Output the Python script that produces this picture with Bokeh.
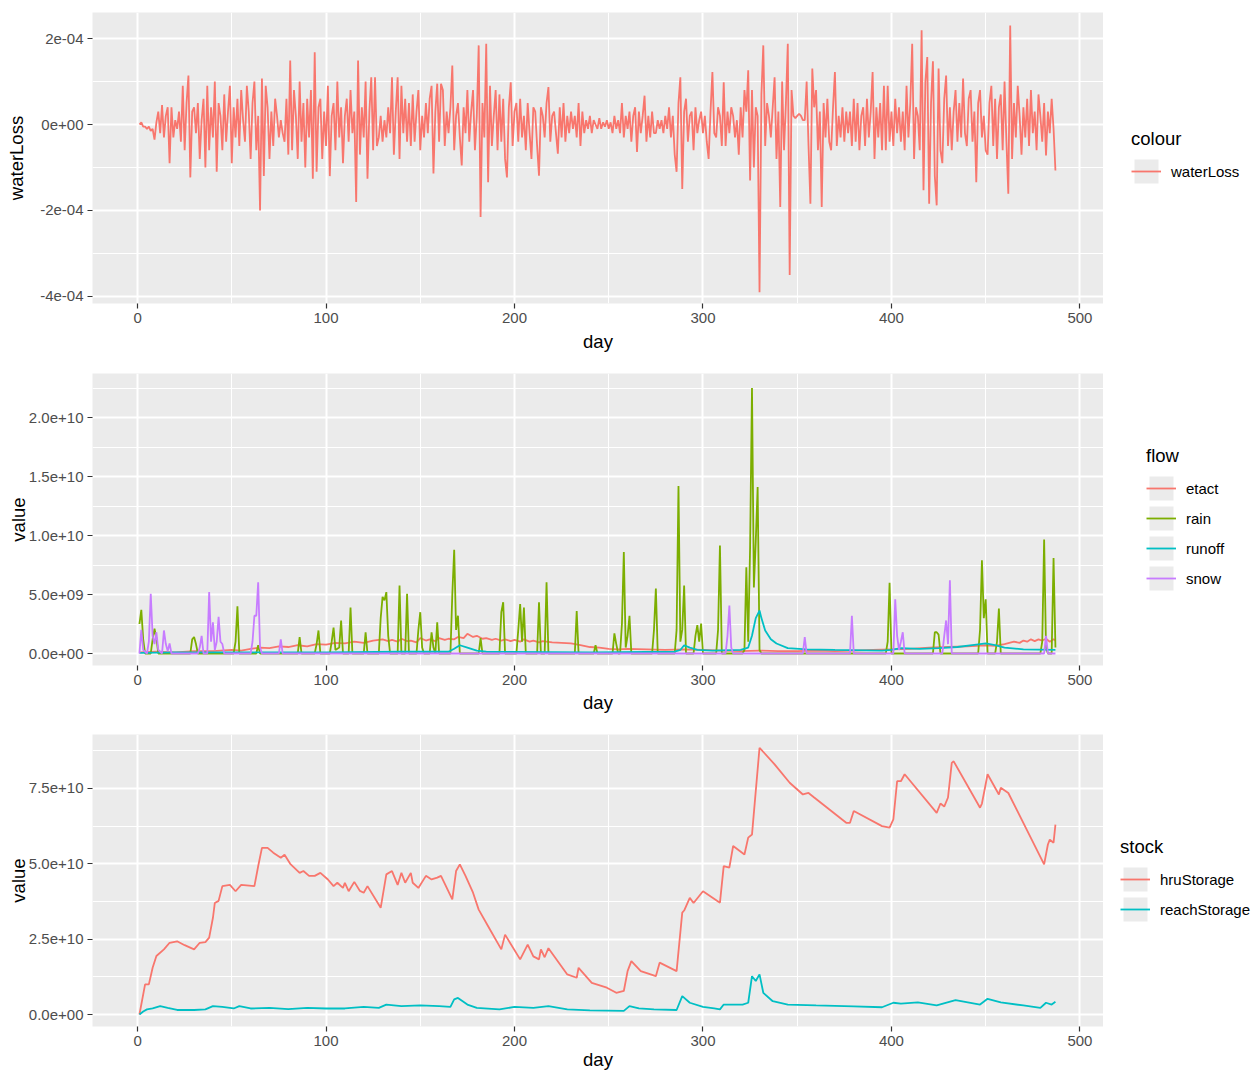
import numpy as np
from bokeh.plotting import figure
from bokeh.layouts import column, row
from bokeh.models import Range1d, FixedTicker, Legend, LegendItem
from bokeh.embed import file_html
from bokeh.resources import INLINE

FONT = "Liberation Sans"

# ---------------- data ----------------
# panel 1: daily waterLoss, units of 1e-5 (days 1..487)
water_loss_e5 = [
    0, 0.5, -0.5, -0.5, -1, -0.5, -1.5, -1, -3.5, 0.5,
    3, -2, 4.5, -3, 2, 4, -9, 4, -3, 1,
    -1, 3, -4, 9, -6, 5, 11.4, -12.3, 3, 4,
    -2, 5, -8, 1, 6, -10, 9, -6, 4, -3,
    10, -11, 5, 2, -6, 7, -4, 3, 9, -9,
    4, -3, 6, -5, 8, 1, -4, 9, 3, -8,
    5, 10, -6, 2, -20, 10.7, -12, 9, 4, -8,
    3, -5, 6, 2, -3, 1, -2, -4, 6, -7,
    14.9, -6, 8, 2, -8, 10, -4, 5, -10, 6,
    -3, 8, -12.6, 16.8, -11, 4, 6, -8, 3, -5,
    9, -12, 2, 5, -6, 10, -3, 4, -9, 2,
    6, -4, 8, -2, 3, -18, 14.9, -7, 4, -3,
    10, -12.6, 3, 11, -6, 11, -5, -3, 2, -4,
    1, -3, 4, -2, 11, -7, 3, 11, -8, 9,
    -2, 6, -4, 5, -5, 7, -4, 3, 8, -6,
    2, -3, 5, -2, 6, 9, -11.4, 3, 9.5, -4,
    9.5, 8, -5, 3, -2, 4, 13.7, -6, 2, 5,
    -3, -9.5, 4, -2, 8, -4, 3, 8, -6, 2,
    18.4, -21.5, 5, -3, 18.8, -13.4, 9, -5, 2, 8,
    -6, 7, -4, 6, -8, -12.3, 4, 9.8, -5, 3,
    5, -4, 6, -3, 2, -6, 5, -2, -8, 4,
    3, -5, -11.9, 4, 2, -3, 5, 8.7, -4, 2,
    3, -2, -6.8, 4, -3, 5, -4, 2, -2, 3,
    -1, 2, -3, 5, -5, 3, -2, 1, -1, 2,
    -2, 1, 0, -1, 1.5, -1, 0.5, -0.5, 1, -1,
    0.5, -2, 2, -1, 1, -2, 5, -3, 2, -1,
    3, -4, 2, 4, -6.4, 3, -2, 2, 6.7, -4,
    2, -3, 3, -2, -2, 1, -1, 1, -2, 2,
    -1, 4, -3, 2, -7, -11, 5, 11, -15, 3,
    6, -4, 2, 3, -6, 4, -2, 1, 3, -2,
    2, -4, -8, 3, 12.2, -2, -3, 4, 2, -5,
    9.8, -5, 3, -2, 4, 2, -3, 1, -7, 4,
    -3, 8, 3, 12.6, -13, 8, -10, 4, 2, -39,
    7, 18.4, -5, 5, 2, -3, 4, 11, -8, 3,
    -19.2, 10, -6, 5, 18.8, -35, 8, 2, 1.5, 2,
    2.5, 2, 1, 1, 10, -5, -18.4, 13, 4, 8,
    -6, 3, -19.2, 5, -3, 6, -4, -6, 4, 12.2,
    -5, 2, -3, 4, -4, 3, -2, 3, -5, 6,
    -4, 5, -6, 2, 4, -5, 6, -3, 3, 12.2,
    -8, 4, -3, 5, -6, 9, -6, 9, -4, 3,
    -5, 6, -2, 4, -4, 3, -6, 9, -3, 5,
    18.8, -8, 4, 2, -6, 21.9, -15.3, 10, 15.7, -18.4,
    5, 14.7, -12, -18.8, 13, -6, -9, 6, 11.4, -5,
    4, -6, 3, 8, -4, 5, -3, 10.7, -2, -5,
    6, 8, -4, 3, -13.4, 5, 8, -3, 2, -6,
    -7, 5, 9, -5, 6, -8, 4, 7, -6, 10,
    -4, -16.1, 23, -8, 5, -3, 9, 2, -7, 4,
    -3, 6, -5, 8, -2, 3, -6, 7, 2, -4,
    5, -7.2, 3, -2, 6, -1, -10.7,
]

# panel 2: flows (day, value in 1e9)
etact_pts = [
    (1, 0.1), (10, 0.15), (20, 0.1), (30, 0.2), (40, 0.2), (50, 0.3), (55, 0.25),
    (60, 0.4), (65, 0.5), (70, 0.45), (75, 0.6), (80, 0.55), (85, 0.7), (90, 0.6),
    (95, 0.8), (100, 0.75), (105, 0.9), (110, 0.85), (115, 1.0), (120, 0.9),
    (125, 1.1), (130, 1.2), (133, 1.05), (135, 1.15), (138, 1.0), (140, 1.25),
    (143, 1.05), (145, 1.1), (148, 0.95), (150, 1.3), (153, 1.1), (155, 1.2),
    (158, 1.05), (160, 1.3), (163, 1.15), (165, 1.25), (168, 1.2), (170, 1.4),
    (173, 1.3), (175, 1.67), (178, 1.4), (180, 1.5), (183, 1.25), (185, 1.3),
    (188, 1.15), (190, 1.25), (193, 1.1), (195, 1.2), (198, 1.05), (200, 1.15),
    (203, 1.0), (205, 1.2), (208, 1.0), (210, 1.1), (213, 0.95), (215, 1.05),
    (220, 0.95), (225, 0.9), (230, 0.85), (235, 0.7), (240, 0.55), (245, 0.5),
    (250, 0.4), (255, 0.35), (260, 0.4), (270, 0.35), (280, 0.3), (290, 0.35),
    (300, 0.3), (310, 0.25), (320, 0.2), (330, 0.25), (340, 0.2), (350, 0.2),
    (360, 0.25), (370, 0.2), (380, 0.25), (390, 0.3), (400, 0.35), (410, 0.4),
    (420, 0.5), (430, 0.55), (440, 0.6), (450, 0.7), (455, 0.65), (460, 0.8),
    (465, 1.0), (468, 0.9), (470, 1.1), (472, 1.0), (474, 1.2), (476, 1.05),
    (478, 1.2), (480, 1.1), (482, 1.25), (484, 1.0), (486, 1.2), (487, 1.1),
]
rain_pts = [
    (1, 2.5), (2, 3.7), (3, 1.2), (4, 0), (7, 0), (8, 1.2), (9, 2.1), (10, 1.3), (11, 0),
    (28, 0), (29, 1.2), (30, 1.4), (31, 0.8), (32, 0),
    (51, 0), (52, 1.0), (53, 4.0), (54, 0),
    (63, 0), (64, 0.7), (65, 0),
    (85, 0), (86, 1.4), (87, 0),
    (94, 0), (95, 0.8), (96, 1.95), (97, 0),
    (102, 0), (103, 1.0), (104, 2.2), (105, 0.3), (107, 0.5), (108, 2.8), (109, 0),
    (112, 0), (113, 3.9), (114, 0),
    (120, 0), (121, 1.8), (122, 0),
    (128, 0), (129, 3.0), (130, 4.8), (131, 4.5), (132, 5.2), (133, 1.5), (134, 0),
    (138, 0), (139, 5.76), (140, 0),
    (142, 0), (143, 5.06), (144, 0),
    (148, 0), (149, 2.0), (150, 3.5), (151, 0.5), (152, 0),
    (155, 0), (156, 1.8), (157, 0.5), (158, 0), (159, 2.65), (160, 0),
    (166, 0), (167, 5.0), (168, 8.8), (169, 2.0), (170, 3.2), (171, 0),
    (181, 0), (182, 1.3), (183, 0),
    (192, 0), (193, 3.5), (194, 4.35), (195, 0),
    (201, 0), (202, 2.0), (203, 4.2), (204, 1.0), (205, 3.9), (206, 0),
    (212, 0), (213, 4.35), (214, 0), (216, 0), (217, 6.04), (218, 0),
    (232, 0), (233, 3.6), (234, 0),
    (242, 0), (243, 0.7), (244, 0),
    (252, 0), (253, 1.7), (254, 0.8), (255, 0),
    (256, 0), (257, 2.5), (258, 8.6), (259, 0.5), (260, 1.5), (261, 3.2), (262, 0),
    (273, 0), (274, 2.0), (275, 5.5), (276, 0),
    (285, 0), (286, 2.0), (287, 14.2), (288, 1.0), (289, 2.0), (290, 5.76), (291, 0),
    (295, 0), (296, 1.5), (297, 2.4), (298, 1.0), (299, 2.54), (300, 0),
    (307, 0), (308, 2.0), (309, 9.15), (310, 0),
    (321, 0), (322, 0.3), (323, 7.3), (324, 1.0), (325, 9.0), (326, 22.5), (327, 5.6),
    (328, 9.5), (329, 14.1), (330, 0.3), (331, 0),
    (397, 0), (398, 1.0), (399, 6.0), (400, 0),
    (422, 0), (423, 1.8), (424, 1.8), (425, 1.6), (426, 0),
    (446, 0), (447, 2.0), (448, 7.9), (449, 3.0), (450, 4.6), (451, 0),
    (455, 0), (456, 1.0), (457, 3.8), (458, 0),
    (479, 0), (480, 1.0), (481, 9.66), (482, 0.5), (483, 0),
    (485, 0), (486, 8.1), (487, 0.5),
]
runoff_pts = [
    (1, 0.05), (20, 0.1), (60, 0.1), (100, 0.1), (140, 0.15), (165, 0.15), (168, 0.4),
    (171, 0.7), (175, 0.5), (180, 0.25), (185, 0.15), (240, 0.1), (285, 0.15),
    (288, 0.3), (290, 0.7), (293, 0.5), (297, 0.3), (305, 0.25), (320, 0.3),
    (324, 0.5), (326, 1.5), (328, 3.0), (330, 3.64), (331, 3.0), (333, 1.95),
    (336, 1.2), (339, 0.85), (345, 0.45), (355, 0.35), (370, 0.3), (395, 0.25),
    (400, 0.3), (405, 0.45), (415, 0.4), (425, 0.45), (435, 0.55), (445, 0.75),
    (450, 0.85), (455, 0.7), (460, 0.5), (470, 0.35), (487, 0.3),
]
snow_pts = [
    (1, 0), (2, 2.0), (3, 0.3), (5, 0), (6, 1.0), (7, 5.06), (8, 1.5), (9, 0.8),
    (10, 1.8), (11, 0.3), (13, 0), (14, 1.95), (15, 0.8), (16, 0.2), (17, 0.85), (18, 0),
    (32, 0), (33, 0.5), (34, 1.5), (35, 0), (37, 0), (38, 5.2), (39, 1.0), (40, 2.65),
    (41, 0.3), (42, 1.0), (43, 3.1), (44, 1.0), (45, 0.8), (46, 0),
    (60, 0), (61, 1.0), (62, 3.2), (63, 3.2), (64, 6.04), (65, 0.5), (66, 0),
    (75, 0), (76, 1.2), (77, 0),
    (312, 0), (313, 1.5), (314, 4.07), (315, 0.5), (316, 0),
    (353, 0), (354, 1.4), (355, 0),
    (378, 0), (379, 3.2), (380, 0),
    (401, 0), (402, 4.6), (403, 1.5), (404, 0.3), (405, 1.0), (406, 1.8), (407, 0),
    (427, 0), (428, 1.5), (429, 2.8), (430, 0.8), (431, 6.2), (432, 0),
    (481, 0), (482, 1.5), (483, 0), (487, 0),
]

# panel 3: stocks (day, value in 1e10)
hru_pts = [
    (1, 0), (4, 1.0), (6, 1.0), (8, 1.55), (10, 1.94), (14, 2.16), (17, 2.38), (21, 2.43),
    (25, 2.3), (30, 2.16), (33, 2.38), (36, 2.4), (38, 2.55), (40, 3.21), (41, 3.7),
    (43, 3.77), (45, 4.26), (49, 4.3), (52, 4.09), (55, 4.3), (62, 4.26), (64, 4.92),
    (66, 5.53), (69, 5.53), (72, 5.37), (76, 5.2), (78, 5.3), (81, 5.0), (86, 4.7),
    (88, 4.76), (91, 4.6), (94, 4.6), (97, 4.7), (101, 4.48), (104, 4.26), (106, 4.37),
    (109, 4.2), (110, 4.37), (112, 4.09), (115, 4.4), (118, 4.1), (120, 4.04),
    (122, 4.26), (129, 3.54), (132, 4.65), (135, 4.76), (138, 4.3), (140, 4.7),
    (142, 4.37), (145, 4.7), (146, 4.37), (149, 4.2), (153, 4.6), (156, 4.48),
    (159, 4.54), (161, 4.6), (167, 3.82), (169, 4.76), (171, 4.98), (174, 4.6),
    (178, 4.04), (181, 3.48), (186, 2.93), (193, 2.16), (195, 2.65), (203, 1.83),
    (207, 2.32), (210, 1.93), (213, 1.83), (214, 2.16), (216, 1.9), (218, 2.2),
    (228, 1.33), (233, 1.22), (234, 1.55), (241, 1.05), (249, 0.89), (254, 0.72),
    (258, 0.78), (260, 1.44), (262, 1.77), (267, 1.44), (275, 1.27), (277, 1.72),
    (286, 1.44), (289, 3.38), (290, 3.45), (293, 3.87), (295, 3.7), (300, 4.09),
    (309, 3.71), (311, 4.92), (314, 4.87), (316, 5.59), (322, 5.31), (324, 5.87),
    (326, 5.97), (330, 8.85), (338, 8.3), (346, 7.69), (353, 7.3), (356, 7.35),
    (359, 7.2), (376, 6.36), (378, 6.36), (380, 6.75), (395, 6.25), (399, 6.2),
    (401, 6.47), (403, 7.74), (405, 7.74), (407, 7.97), (424, 6.69), (426, 7.0),
    (428, 6.9), (430, 7.2), (432, 8.35), (433, 8.4), (447, 6.86), (448, 7.0),
    (451, 7.97), (457, 7.3), (458, 7.52), (462, 7.35), (481, 4.98), (483, 5.64),
    (484, 5.8), (486, 5.7), (487, 6.3),
]
reach_pts = [
    (1, 0), (3, 0.1), (5, 0.17), (8, 0.2), (12, 0.28), (16, 0.22), (21, 0.15), (30, 0.15),
    (36, 0.17), (40, 0.28), (45, 0.25), (51, 0.2), (54, 0.28), (60, 0.2), (70, 0.22),
    (80, 0.18), (90, 0.22), (100, 0.2), (110, 0.2), (120, 0.25), (128, 0.22),
    (132, 0.33), (140, 0.28), (150, 0.3), (160, 0.28), (166, 0.25), (168, 0.5),
    (170, 0.55), (175, 0.33), (180, 0.22), (192, 0.17), (200, 0.25), (210, 0.22),
    (218, 0.28), (228, 0.17), (240, 0.14), (258, 0.12), (261, 0.28), (266, 0.2),
    (274, 0.17), (286, 0.15), (289, 0.61), (293, 0.39), (300, 0.25), (306, 0.2),
    (309, 0.17), (311, 0.33), (321, 0.33), (324, 0.39), (326, 1.27), (328, 1.11),
    (330, 1.33), (332, 0.72), (337, 0.44), (345, 0.33), (360, 0.3), (380, 0.27),
    (395, 0.24), (401, 0.39), (405, 0.36), (414, 0.4), (424, 0.3), (434, 0.48),
    (447, 0.33), (451, 0.52), (458, 0.4), (470, 0.3), (479, 0.22), (482, 0.39),
    (485, 0.33), (487, 0.42),
]

x_ticks = [0, 100, 200, 300, 400, 500]
x_minor = [50, 150, 250, 350, 450]

wl_ticks = [-4e-4, -2e-4, 0.0, 2e-4]
wl_minor = [-3e-4, -1e-4, 1e-4]
wl_labels = ["-4e-04", "-2e-04", "0e+00", "2e-04"]

flow_ticks = [0.0, 5e9, 1e10, 1.5e10, 2e10]
flow_minor = [2.5e9, 7.5e9, 1.25e10, 1.75e10, 2.25e10]
flow_labels = ["0.0e+00", "5.0e+09", "1.0e+10", "1.5e+10", "2.0e+10"]

stock_ticks = [0.0, 2.5e10, 5e10, 7.5e10]
stock_minor = [1.25e10, 3.75e10, 6.25e10, 8.75e10]
stock_labels = ["0.0e+00", "2.5e+10", "5.0e+10", "7.5e+10"]

C_RED, C_GREEN, C_CYAN, C_PURPLE = "#F8766D", "#7CAE00", "#00BFC4", "#C77CFF"
LW = 1.8
NAN = float("nan")


def unpack(pts, scale):
    d = [p[0] for p in pts]
    v = [p[1] * scale for p in pts]
    return d, v


def make_fig(height, top, bottom, yr, yticks, yminor, ylabels, ytitle, ystand, xstand):
    p = figure(width=1103, height=height, x_range=Range1d(-23.9, 512.5),
               y_range=Range1d(*yr), output_backend="svg", toolbar_location=None,
               min_border_left=92, min_border_right=0,
               min_border_top=top, min_border_bottom=bottom)
    p.background_fill_color = "#EBEBEB"
    p.border_fill_color = "white"
    p.outline_line_color = None
    p.xaxis.ticker = FixedTicker(ticks=x_ticks, minor_ticks=x_minor)
    p.yaxis.ticker = FixedTicker(ticks=yticks, minor_ticks=yminor)
    p.yaxis.major_label_overrides = dict(zip(yticks, ylabels))
    p.xaxis.axis_label = "day"
    p.yaxis.axis_label = ytitle
    p.xaxis.axis_label_standoff = xstand
    p.yaxis.axis_label_standoff = ystand
    for ax in (p.xaxis[0], p.yaxis[0]):
        ax.axis_line_color = None
        ax.major_tick_in = 0
        ax.major_tick_out = 5
        ax.major_tick_line_color = "#333333"
        ax.major_tick_line_width = 1.2
        ax.minor_tick_line_color = None
        ax.major_label_text_font = FONT
        ax.major_label_text_font_size = "15px"
        ax.major_label_text_color = "#4D4D4D"
        ax.major_label_standoff = 4
        ax.axis_label_text_font = FONT
        ax.axis_label_text_font_size = "18.5px"
        ax.axis_label_text_font_style = "normal"
        ax.axis_label_text_color = "black"
    p.grid.grid_line_color = "white"
    p.grid.grid_line_width = 2
    p.grid.minor_grid_line_color = "white"
    p.grid.minor_grid_line_width = 1
    return p


def legend_fig(height, title, entries, loc):
    q = figure(width=150, height=height, x_range=Range1d(0, 1), y_range=Range1d(0, 1),
               x_axis_type=None, y_axis_type=None, output_backend="svg",
               toolbar_location=None, min_border=0)
    q.outline_line_color = None
    q.background_fill_color = "white"
    q.border_fill_color = "white"
    # key background (legend helper, no visible data)
    bg = q.quad(left=[NAN], right=[NAN], bottom=[NAN], top=[NAN],
                fill_color="#EBEBEB", line_color=None)
    items = []
    for lab, col in entries:
        r = q.line([NAN], [NAN], line_color=col, line_width=LW)
        items.append(LegendItem(label=lab, renderers=[bg, r]))
    leg = Legend(items=items, location=loc, title=title, orientation="vertical",
                 glyph_width=30, glyph_height=30, label_standoff=10, spacing=0,
                 padding=0, margin=0, border_line_color=None, background_fill_alpha=0,
                 label_text_font=FONT, label_text_font_size="15px", label_text_color="black",
                 title_text_font=FONT, title_text_font_size="18.5px",
                 title_text_font_style="normal", title_text_color="black", title_standoff=6)
    q.add_layout(leg)
    return q


# panel 1
p1 = make_fig(358, 12, 55, (-4.163e-4, 2.605e-4), wl_ticks, wl_minor, wl_labels,
              "waterLoss", 10, 5)
days = list(range(1, len(water_loss_e5) + 1))
p1.line(days, [v * 1e-5 for v in water_loss_e5], line_color=C_RED, line_width=LW)
l1 = legend_fig(358, "colour", [("waterLoss", C_RED)], (28, 117))

# panel 2
p2 = make_fig(358, 15, 51, (-1.017e9, 2.373e10), flow_ticks, flow_minor, flow_labels,
              "value", -3, 4)
p2.line(*unpack(etact_pts, 1e9), line_color=C_RED, line_width=LW)
p2.line(*unpack(rain_pts, 1e9), line_color=C_GREEN, line_width=LW)
p2.line(*unpack(runoff_pts, 1e9), line_color=C_CYAN, line_width=LW)
p2.line(*unpack(snow_pts, 1e9), line_color=C_PURPLE, line_width=LW)
l2 = legend_fig(358, "flow", [("etact", C_RED), ("rain", C_GREEN), ("runoff", C_CYAN),
                              ("snow", C_PURPLE)], (43, 72))

# panel 3
p3 = make_fig(358, 18, 48, (-3.98e9, 9.29e10), stock_ticks, stock_minor, stock_labels,
              "value", -3, 0)
p3.line(*unpack(hru_pts, 1e10), line_color=C_RED, line_width=LW)
p3.line(*unpack(reach_pts, 1e10), line_color=C_CYAN, line_width=LW)
l3 = legend_fig(358, "stock", [("hruStorage", C_RED), ("reachStorage", C_CYAN)], (17, 102))

layout = column(row(p1, l1, spacing=0), row(p2, l2, spacing=0), row(p3, l3, spacing=0),
                spacing=0)
open("out.html", "w").write(file_html(layout, INLINE))
